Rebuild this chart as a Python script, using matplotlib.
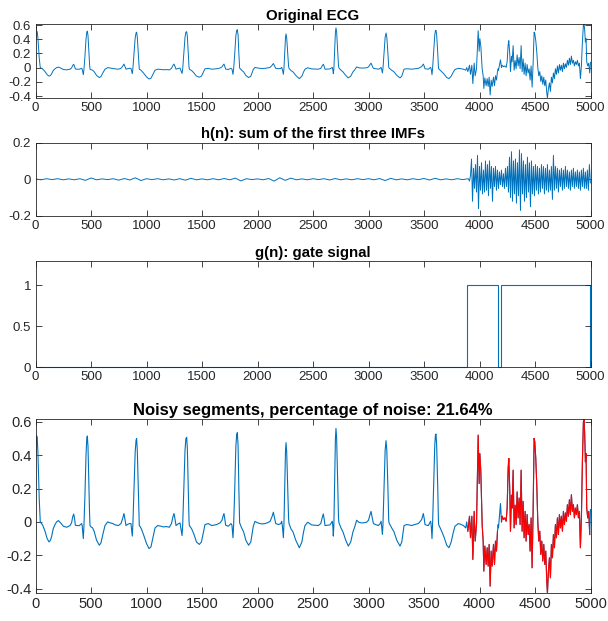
import numpy as np
import matplotlib
matplotlib.use("Agg")
import matplotlib.pyplot as plt
from matplotlib.ticker import FuncFormatter, MultipleLocator

plt.rcParams['font.family'] = ['Liberation Sans', 'DejaVu Sans']
plt.rcParams['axes.unicode_minus'] = False

# ---------------- data ----------------
ecg_x = [0, 6, 11, 16, 22, 34, 43, 55, 65, 86, 105, 122, 135, 146, 160, 176, 190, 206, 225, 251, 281, 311, 325, 335, 344, 352, 359, 375, 395, 416, 420, 431, 436, 445, 455, 462, 467, 473, 480, 487, 491, 500, 515, 530, 550, 575, 590, 605, 626, 650, 670, 695, 720, 746, 770, 785, 797, 805, 815, 830, 845, 860, 872, 877, 888, 898, 906, 911, 917, 925, 932, 935, 945, 956, 975, 1000, 1023, 1040, 1060, 1077, 1101, 1125, 1152, 1180, 1206, 1225, 1238, 1248, 1256, 1266, 1285, 1302, 1320, 1326, 1336, 1347, 1355, 1362, 1368, 1376, 1383, 1386, 1395, 1407, 1425, 1450, 1476, 1495, 1510, 1527, 1557, 1587, 1632, 1662, 1680, 1690, 1698, 1705, 1713, 1737, 1761, 1770, 1779, 1785, 1795, 1805, 1812, 1818, 1825, 1832, 1839, 1857, 1875, 1895, 1920, 1940, 1962, 1977, 2000, 2022, 2045, 2068, 2090, 2113, 2130, 2143, 2152, 2164, 2190, 2210, 2218, 2225, 2233, 2238, 2245, 2252, 2257, 2263, 2272, 2280, 2284, 2302, 2320, 2345, 2377, 2400, 2415, 2428, 2452, 2470, 2488, 2520, 2548, 2570, 2583, 2593, 2600, 2608, 2630, 2653, 2674, 2679, 2683, 2688, 2695, 2702, 2707, 2713, 2722, 2730, 2734, 2752, 2770, 2795, 2818, 2840, 2860, 2878, 2893, 2915, 2938, 2960, 2983, 3000, 3012, 3023, 3032, 3044, 3065, 3089, 3105, 3113, 3119, 3125, 3130, 3140, 3150, 3158, 3165, 3175, 3182, 3185, 3209, 3230, 3255, 3284, 3300, 3320, 3344, 3365, 3389, 3420, 3449, 3479, 3494, 3502, 3509, 3525, 3539, 3560, 3566, 3572, 3577, 3587, 3597, 3603, 3608, 3614, 3624, 3630, 3632, 3659, 3680, 3705, 3725, 3745, 3765, 3779, 3809, 3830, 3855, 3876, 3885,
         3895, 3910, 3919, 3931, 3940, 3952, 3961, 3973, 3982, 3988, 3997, 4003, 4012, 4024, 4033, 4039, 4048, 4060, 4069, 4078, 4087, 4096, 4105, 4114, 4126, 4135, 4144, 4153, 4162, 4168, 4171, 4180, 4189, 4198, 4204, 4216, 4228, 4240, 4249, 4258, 4264, 4273, 4279, 4288, 4294, 4303, 4312, 4321, 4330, 4339, 4348, 4357, 4366, 4375, 4384, 4393, 4402, 4411, 4420, 4429, 4438, 4447, 4456, 4465, 4474, 4483, 4492, 4498, 4507, 4516, 4525, 4534, 4543, 4552, 4561, 4570, 4579, 4588, 4597, 4606, 4612, 4621, 4630, 4639, 4648, 4657, 4666, 4675, 4684, 4693, 4702, 4711, 4720, 4729, 4738, 4747, 4756, 4765, 4774, 4783, 4792, 4801, 4810, 4819, 4828, 4837, 4846, 4855, 4864, 4873, 4882, 4891, 4900, 4909, 4918, 4927, 4936, 4942, 4948, 4954, 4960, 4966, 4975, 4984, 4993, 5000]
ecg_y = [0.37, 0.47, 0.515, 0.50, 0.41, 0.13, 0.0, -0.01, -0.02, -0.056, -0.10, -0.12, -0.11, -0.085, -0.04, -0.016, 0.0, 0.008, -0.005, -0.026, -0.032, -0.022, -0.005, 0.03, 0.047, 0.02, -0.02, -0.022, -0.022, -0.01, -0.02, -0.10, -0.03, 0.15, 0.40, 0.50, 0.515, 0.45, 0.25, 0.05, -0.022, -0.03, -0.036, -0.06, -0.11, -0.14, -0.125, -0.08, -0.022, 0.0, -0.005, -0.01, -0.018, -0.022, -0.01, 0.02, 0.05, 0.02, -0.022, -0.015, -0.01, -0.01, -0.085, -0.02, 0.2, 0.42, 0.49, 0.50, 0.43, 0.22, 0.03, -0.022, -0.03, -0.046, -0.08, -0.13, -0.16, -0.15, -0.09, -0.036, -0.022, -0.025, -0.03, -0.028, -0.032, -0.01, 0.03, 0.05, 0.02, -0.022, -0.012, -0.006, -0.082, -0.02, 0.2, 0.43, 0.50, 0.507, 0.44, 0.2, 0.01, -0.022, -0.03, -0.042, -0.07, -0.12, -0.135, -0.12, -0.07, -0.016, -0.01, -0.022, -0.016, -0.006, 0.01, 0.035, 0.05, 0.02, -0.02, -0.026, -0.01, -0.02, -0.095, -0.02, 0.2, 0.45, 0.52, 0.535, 0.46, 0.2, -0.006, -0.036, -0.06, -0.11, -0.14, -0.12, -0.026, 0.003, -0.005, -0.01, -0.012, -0.01, -0.005, 0.003, 0.03, 0.058, 0.03, -0.01, -0.016, -0.01, 0.004, -0.03, -0.095, -0.02, 0.2, 0.42, 0.475, 0.42, 0.2, 0.02, -0.01, -0.042, -0.06, -0.11, -0.155, -0.12, -0.06, -0.022, -0.002, -0.01, -0.018, -0.02, -0.022, -0.01, 0.025, 0.048, 0.02, -0.022, -0.02, -0.018, 0.004, -0.03, -0.085, -0.02, 0.25, 0.50, 0.56, 0.50, 0.25, 0.02, -0.006, -0.036, -0.06, -0.11, -0.145, -0.12, -0.06, -0.026, 0.01, -0.003, -0.006, -0.005, -0.002, 0.01, 0.04, 0.063, 0.03, -0.01, -0.016, -0.022, -0.01, 0.004, -0.03, -0.075, -0.02, 0.2, 0.43, 0.487, 0.43, 0.2, 0.01, -0.006, -0.036, -0.06, -0.11, -0.145, -0.12, -0.022, -0.016, -0.018, -0.022, -0.015, -0.01, 0.014, 0.05, 0.02, -0.016, -0.02, -0.022, 0.004, -0.03, -0.10, -0.02, 0.22, 0.46, 0.52, 0.527, 0.46, 0.2, 0.01, -0.016, -0.056, -0.09, -0.14, -0.155, -0.12, -0.06, -0.026, -0.01, -0.014, -0.022, -0.036, 0.0,
         -0.056, 0.034, -0.095, 0.034, -0.225, 0.063, -0.115, -0.016, 0.30, 0.52, 0.23, 0.41, 0.30, -0.016, -0.115, -0.295, -0.145, -0.255, -0.155, -0.265, -0.135, -0.385, -0.175, -0.265, -0.135, -0.255, -0.115, -0.175, -0.056, -0.016, -0.036, 0.034, 0.11, 0.0, 0.034, 0.014, 0.024, 0.004, 0.083, 0.32, 0.38, 0.18, -0.056, 0.16, 0.083, 0.31, -0.036, 0.10, -0.016, 0.18, 0.024, 0.143, -0.016, 0.31, -0.056, 0.123, -0.095, 0.063, -0.115, 0.044, -0.076, -0.016, -0.175, 0.024, -0.275, 0.063, 0.50, 0.48, 0.38, 0.22, 0.004, -0.115, -0.056, -0.195, -0.115, -0.235, -0.135, -0.255, -0.175, -0.355, -0.428, -0.295, -0.215, -0.335, -0.135, -0.215, -0.076, -0.155, -0.016, -0.095, 0.024, -0.076, 0.044, -0.036, 0.034, -0.056, 0.063, -0.016, 0.054, 0.004, 0.103, 0.034, 0.133, 0.044, 0.163, 0.063, 0.103, 0.024, 0.083, 0.044, 0.103, 0.024, 0.063, -0.155, 0.024, 0.36, 0.60, 0.615, 0.52, 0.36, 0.41, 0.083, 0.024, 0.063, -0.076, 0.074]

# h(n): quiet part (sample index every 50) and noisy part (every 9 samples)
h_quiet_x = list(range(0, 3901, 50))
h_quiet_y = [0.002, -0.003, 0.003, -0.002, 0.003, -0.003, 0.002, -0.003, 0.003, -0.006, 0.007, -0.003, 0.002, -0.002, 0.003, -0.005, 0.004, -0.004, 0.008, -0.007, 0.003, -0.002, 0.003, -0.003, 0.002, -0.004, 0.003, -0.005, 0.005, -0.003, 0.002, -0.003, 0.003, -0.003, 0.004, -0.003, 0.006, -0.009, 0.003, -0.002, 0.002, -0.003, 0.004, -0.010, 0.008, -0.006, 0.006, -0.003, 0.002, -0.003, 0.003, -0.002, 0.003, -0.004, 0.004, -0.003, 0.002, -0.003, 0.003, -0.002, 0.003, -0.003, 0.004, -0.007, 0.005, -0.003, 0.002, -0.003, 0.003, -0.002, 0.004, -0.004, 0.005, -0.003, 0.002, -0.003, 0.003, -0.002, 0.003]
h_noisy_x = list(range(3910, 5000, 9))
h_noisy_y = [-0.01, 0.02, 0.11, -0.12, 0.06, -0.05, 0.08, -0.07, 0.13, -0.16, 0.07, -0.06, 0.09, -0.08, 0.05, -0.07, 0.10, -0.06, 0.08, -0.09, 0.10, -0.05, 0.07, -0.12, 0.06, -0.04, 0.07, -0.06, 0.05, -0.05, 0.04, -0.03, 0.05, -0.04, 0.03, -0.05, 0.06, -0.04, 0.07, -0.07, 0.12, -0.10, 0.15, -0.12, 0.10, -0.08, 0.11, -0.13, 0.09, -0.09, 0.16, -0.17, 0.14, -0.08, 0.10, -0.12, 0.08, -0.10, 0.12, -0.07, 0.09, -0.15, 0.10, -0.08, 0.07, -0.09, 0.08, -0.06, 0.07, -0.08, 0.06, -0.07, 0.08, -0.05, 0.07, -0.08, 0.06, -0.06, 0.08, -0.07, 0.05, -0.06, 0.07, -0.11, 0.13, -0.06, 0.07, -0.05, 0.06, -0.07, 0.05, -0.04, 0.06, -0.06, 0.05, -0.05, 0.07, -0.04, 0.05, -0.05, 0.04, -0.06, 0.05, -0.04, 0.06, -0.05, 0.04, -0.04, 0.05, -0.05, 0.04, -0.06, 0.05, -0.04, 0.06, -0.05, 0.04, -0.05, 0.05, -0.06, 0.08, -0.02]

# gate signal g(n)
gate_edges = [0, 3887, 4167, 4195, 4996, 5000]
gate_levels = [0, 1, 0, 1, 0]

noise_pct = 21.64
titles = ["Original ECG", "h(n): sum of the first three IMFs", "g(n): gate signal",
          "Noisy segments, percentage of noise: %.2f%%" % noise_pct]

# ---------------- drawing ----------------
BLUE = '#0072BD'
AX = '#262626'
W, H = 608, 621
fig = plt.figure(figsize=(W / 100, H / 100), dpi=100)


def add_axes(top, bottom, left=35.5, right=590.5):
    return fig.add_axes([left / W, 1 - bottom / H, (right - left) / W, (bottom - top) / H])


def style(ax, yticks, title, tsize, lsize, tpad):
    ax.set_xlim(0, 5000)
    ax.xaxis.set_major_locator(MultipleLocator(500))
    ax.set_yticks(yticks)
    fmt = FuncFormatter(lambda v, p: ('%g' % round(v, 6)))
    ax.yaxis.set_major_formatter(fmt)
    ax.xaxis.set_major_formatter(fmt)
    ax.tick_params(direction='in', length=4.5, width=0.6, color=AX, labelcolor=AX,
                   labelsize=lsize, top=True, right=True, pad=3)
    for s in ax.spines.values():
        s.set_color(AX)
        s.set_linewidth(0.6)
    ax.set_title(title, fontsize=tsize, fontweight='bold', pad=tpad, color='black')


ecg_x_a = np.array(ecg_x)
ecg_y_a = np.array(ecg_y)
ylo, yhi = ecg_y_a.min(), ecg_y_a.max()

ax1 = add_axes(24, 98)
ax1.plot(ecg_x, ecg_y, color=BLUE, lw=0.7)
ax1.set_ylim(ylo, yhi)
style(ax1, [-0.4, -0.2, 0, 0.2, 0.4, 0.6], titles[0], 10.8, 9.5, 3)

ax2 = add_axes(142.5, 216)
ax2.plot(h_quiet_x + h_noisy_x, h_quiet_y + h_noisy_y, color=BLUE, lw=0.7)
ax2.set_ylim(-0.2, 0.2)
style(ax2, [-0.2, 0, 0.2], titles[1], 10.8, 9.5, 3)

ax3 = add_axes(261, 367)
ax3.stairs(gate_levels, gate_edges, color=BLUE, lw=0.8, clip_on=False)
ax3.set_ylim(0, 1.3)
style(ax3, [0, 0.5, 1], titles[2], 10.8, 9.5, 3)

ax4 = add_axes(419.3, 593.3)
ax4.plot(ecg_x, ecg_y, color=BLUE, lw=0.8)
for i in range(len(gate_levels)):
    if gate_levels[i] == 1:
        m = (ecg_x_a >= gate_edges[i]) & (ecg_x_a <= gate_edges[i + 1])
        ax4.plot(ecg_x_a[m], ecg_y_a[m], color='red', lw=0.8)
ax4.set_ylim(ylo, yhi)
style(ax4, [-0.4, -0.2, 0, 0.2, 0.4, 0.6], titles[3], 12, 10.5, 3)

fig.savefig('out.png', dpi=100, facecolor='white')
